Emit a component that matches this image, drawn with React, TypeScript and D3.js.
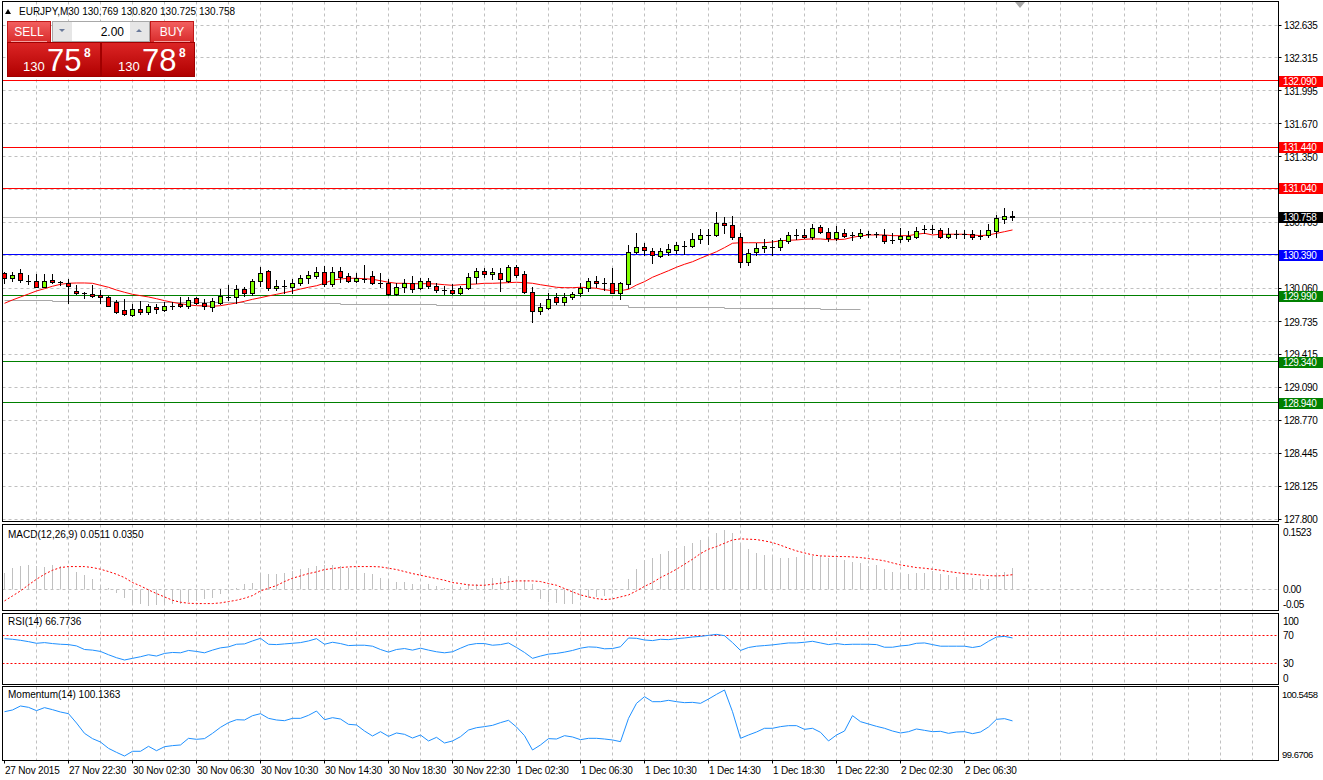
import React from "react";
import * as d3 from "d3";

const timeLabels = ["27 Nov 2015", "27 Nov 22:30", "30 Nov 02:30", "30 Nov 06:30", "30 Nov 10:30", "30 Nov 14:30", "30 Nov 18:30", "30 Nov 22:30", "1 Dec 02:30", "1 Dec 06:30", "1 Dec 10:30", "1 Dec 14:30", "1 Dec 18:30", "1 Dec 22:30", "2 Dec 02:30", "2 Dec 06:30"];
const timeLabelEvery = 8;

const priceTicks = [132.635, 132.315, 131.995, 131.67, 131.35, 131.025, 130.705, 130.38, 130.06, 129.735, 129.415, 129.09, 128.77, 128.445, 128.125, 127.8];

const redLevels = [132.09, 131.44, 131.04];
const blueLevels = [130.39];
const greenLevels = [129.99, 129.34, 128.94];
const bidPrice = 130.758;

const candleOpen = [130.211, 130.162, 130.211, 130.135, 130.132, 130.077, 130.142, 130.125, 130.113, 130.035,
  130.015, 130.005, 129.995, 129.976, 129.927, 129.848, 129.799, 129.858, 129.829, 129.878,
  129.848, 129.890, 129.907, 129.888, 129.966, 129.917, 129.878, 129.917, 129.978, 129.976,
  130.054, 130.015, 130.132, 130.230, 130.064, 130.083, 130.074, 130.113, 130.162, 130.181,
  130.220, 130.103, 130.230, 130.181, 130.132, 130.155, 130.181, 130.113, 130.113, 130.005,
  130.074, 130.113, 130.064, 130.132, 130.083, 130.046, 130.044, 130.015, 130.064, 130.172,
  130.230, 130.201, 130.211, 130.132, 130.269, 130.201, 130.025, 129.838, 129.868, 129.976,
  129.927, 129.976, 130.015, 130.064, 130.132, 130.113, 130.113, 130.015, 130.103, 130.416,
  130.465, 130.426, 130.377, 130.416, 130.436, 130.478, 130.475, 130.544, 130.583, 130.583,
  130.700, 130.681, 130.563, 130.318, 130.416, 130.456, 130.468, 130.465, 130.524, 130.585,
  130.583, 130.563, 130.661, 130.612, 130.553, 130.602, 130.585, 130.573, 130.595, 130.590,
  130.583, 130.536, 130.544, 130.544, 130.563, 130.645, 130.645, 130.632, 130.563, 130.595,
  130.593, 130.593, 130.575, 130.583, 130.622, 130.739, 130.769];
const candleHigh = [130.220, 130.220, 130.250, 130.191, 130.201, 130.201, 130.201, 130.132, 130.152, 130.093,
  130.025, 130.093, 130.044, 129.986, 129.946, 129.956, 129.907, 129.937, 129.907, 129.907,
  129.927, 129.927, 129.976, 129.976, 129.976, 129.956, 129.966, 130.054, 130.093, 130.093,
  130.074, 130.152, 130.269, 130.240, 130.142, 130.142, 130.152, 130.191, 130.230, 130.269,
  130.279, 130.269, 130.269, 130.211, 130.211, 130.289, 130.230, 130.211, 130.152, 130.113,
  130.152, 130.181, 130.162, 130.162, 130.113, 130.083, 130.103, 130.083, 130.211, 130.260,
  130.260, 130.260, 130.260, 130.289, 130.289, 130.230, 130.074, 129.917, 130.015, 130.015,
  130.015, 130.025, 130.113, 130.162, 130.181, 130.162, 130.260, 130.123, 130.485, 130.602,
  130.505, 130.456, 130.456, 130.495, 130.514, 130.524, 130.602, 130.642, 130.642, 130.808,
  130.759, 130.769, 130.602, 130.446, 130.505, 130.544, 130.534, 130.553, 130.612, 130.642,
  130.642, 130.690, 130.681, 130.651, 130.671, 130.642, 130.612, 130.642, 130.622, 130.612,
  130.642, 130.602, 130.651, 130.622, 130.661, 130.681, 130.681, 130.651, 130.651, 130.632,
  130.632, 130.632, 130.632, 130.690, 130.779, 130.847, 130.820];
const candleLow = [130.113, 130.132, 130.123, 130.103, 130.070, 130.070, 130.113, 130.093, 129.917, 130.005,
  129.966, 129.976, 129.917, 129.885, 129.819, 129.799, 129.789, 129.809, 129.809, 129.819,
  129.838, 129.858, 129.878, 129.868, 129.907, 129.858, 129.838, 129.907, 129.946, 129.917,
  129.986, 129.995, 130.083, 130.044, 130.044, 130.015, 130.015, 130.093, 130.113, 130.162,
  130.083, 130.083, 130.123, 130.123, 130.123, 130.123, 130.103, 130.074, 129.995, 129.995,
  130.025, 130.025, 130.054, 130.064, 130.025, 130.005, 130.005, 130.005, 130.054, 130.113,
  130.172, 130.152, 130.035, 130.123, 130.172, 130.015, 129.731, 129.809, 129.858, 129.907,
  129.897, 129.956, 129.986, 130.035, 130.074, 130.044, 130.015, 129.956, 130.064, 130.407,
  130.387, 130.309, 130.367, 130.387, 130.407, 130.397, 130.465, 130.505, 130.495, 130.573,
  130.602, 130.544, 130.269, 130.289, 130.387, 130.416, 130.387, 130.436, 130.505, 130.544,
  130.553, 130.544, 130.602, 130.524, 130.534, 130.563, 130.534, 130.553, 130.563, 130.563,
  130.505, 130.505, 130.514, 130.524, 130.553, 130.602, 130.602, 130.553, 130.553, 130.553,
  130.553, 130.544, 130.544, 130.563, 130.563, 130.700, 130.725];
const candleClose = [130.162, 130.191, 130.142, 130.132, 130.077, 130.132, 130.123, 130.120, 130.083, 130.015,
  130.012, 129.986, 129.976, 129.888, 129.829, 129.809, 129.858, 129.829, 129.888, 129.858,
  129.888, 129.888, 129.888, 129.946, 129.917, 129.888, 129.937, 129.986, 129.976, 130.054,
  130.015, 130.132, 130.211, 130.064, 130.083, 130.085, 130.113, 130.162, 130.191, 130.220,
  130.103, 130.220, 130.172, 130.132, 130.162, 130.152, 130.113, 130.110, 130.005, 130.074,
  130.113, 130.054, 130.132, 130.083, 130.044, 130.044, 130.015, 130.064, 130.172, 130.230,
  130.201, 130.220, 130.152, 130.269, 130.191, 130.025, 129.838, 129.878, 129.956, 129.927,
  129.976, 130.005, 130.064, 130.132, 130.113, 130.110, 130.015, 130.113, 130.416, 130.465,
  130.436, 130.387, 130.426, 130.446, 130.485, 130.475, 130.544, 130.583, 130.580, 130.700,
  130.681, 130.563, 130.318, 130.407, 130.456, 130.475, 130.465, 130.534, 130.583, 130.583,
  130.563, 130.651, 130.612, 130.553, 130.612, 130.573, 130.583, 130.602, 130.593, 130.593,
  130.524, 130.534, 130.573, 130.573, 130.622, 130.642, 130.642, 130.563, 130.593, 130.593,
  130.590, 130.563, 130.573, 130.632, 130.749, 130.769, 130.758];

const maValues = [129.914, 129.947, 129.976, 130.005, 130.035, 130.057, 130.081, 130.100, 130.110, 130.113,
  130.113, 130.110, 130.090, 130.071, 130.044, 130.022, 130.002, 129.989, 129.976, 129.959,
  129.940, 129.924, 129.910, 129.898, 129.891, 129.888, 129.885, 129.891, 129.904, 129.917,
  129.934, 129.953, 129.969, 129.986, 130.002, 130.018, 130.035, 130.054, 130.071, 130.086,
  130.110, 130.142, 130.152, 130.159, 130.159, 130.155, 130.149, 130.135, 130.120, 130.110,
  130.110, 130.106, 130.106, 130.106, 130.103, 130.096, 130.090, 130.096, 130.100, 130.103,
  130.110, 130.110, 130.113, 130.116, 130.120, 130.116, 130.110, 130.096, 130.084, 130.071,
  130.067, 130.067, 130.071, 130.067, 130.061, 130.047, 130.038, 130.038, 130.051, 130.093,
  130.126, 130.169, 130.201, 130.233, 130.267, 130.296, 130.321, 130.355, 130.387, 130.419,
  130.459, 130.502, 130.507, 130.507, 130.507, 130.507, 130.514, 130.527, 130.531, 130.534,
  130.541, 130.544, 130.544, 130.537, 130.537, 130.541, 130.560, 130.573, 130.583, 130.583,
  130.583, 130.576, 130.576, 130.576, 130.590, 130.599, 130.583, 130.590, 130.590, 130.590,
  130.590, 130.583, 130.576, 130.583, 130.599, 130.615, 130.632];

const slowMaStart = [0, 6, 18, 30, 42, 54, 66, 78, 90, 102, 107];
const slowMaValues = [129.946, 129.930, 129.920, 129.914, 129.904, 129.891, 129.891, 129.875, 129.863, 129.858, 129.858];

const macdMain = [0.0401, 0.0522, 0.0562, 0.0586, 0.0562, 0.0538, 0.0586, 0.0562, 0.0522, 0.0426,
  0.0345, 0.0241, 0.0080, 0.0040, -0.0080, -0.0217, -0.0321, -0.0361, -0.0402, -0.0377,
  -0.0361, -0.0345, -0.0345, -0.0297, -0.0281, -0.0241, -0.0217, -0.0120, -0.0040, 0.0040,
  0.0120, 0.0161, 0.0345, 0.0361, 0.0377, 0.0401, 0.0442, 0.0482, 0.0522, 0.0562,
  0.0586, 0.0586, 0.0562, 0.0522, 0.0458, 0.0401, 0.0377, 0.0281, 0.0201, 0.0185,
  0.0185, 0.0120, 0.0080, 0.0120, 0.0072, 0.0040, 0.0056, 0.0056, 0.0120, 0.0120,
  0.0241, 0.0281, 0.0281, 0.0321, 0.0241, 0.0217, 0.0120, -0.0241, -0.0297, -0.0329,
  -0.0345, -0.0345, -0.0265, -0.0201, -0.0185, -0.0161, -0.0080, 0.0000, 0.0241, 0.0482,
  0.0699, 0.0763, 0.0843, 0.0923, 0.0988, 0.1044, 0.1108, 0.1188, 0.1269, 0.1349,
  0.1421, 0.1349, 0.1084, 0.0964, 0.0867, 0.0819, 0.0779, 0.0747, 0.0763, 0.0771,
  0.0795, 0.0795, 0.0795, 0.0763, 0.0763, 0.0699, 0.0666, 0.0642, 0.0570, 0.0586,
  0.0482, 0.0426, 0.0401, 0.0361, 0.0385, 0.0401, 0.0442, 0.0361, 0.0345, 0.0305,
  0.0361, 0.0265, 0.0241, 0.0241, 0.0385, 0.0426, 0.0511];
const macdSignal = [-0.0281, -0.0161, -0.0040, 0.0104, 0.0241, 0.0361, 0.0458, 0.0522, 0.0546, 0.0546,
  0.0546, 0.0522, 0.0482, 0.0426, 0.0361, 0.0281, 0.0161, 0.0080, -0.0016, -0.0104,
  -0.0185, -0.0265, -0.0313, -0.0337, -0.0345, -0.0345, -0.0345, -0.0329, -0.0297, -0.0265,
  -0.0217, -0.0153, -0.0040, 0.0024, 0.0088, 0.0185, 0.0265, 0.0321, 0.0377, 0.0418,
  0.0474, 0.0498, 0.0522, 0.0538, 0.0546, 0.0546, 0.0546, 0.0538, 0.0506, 0.0474,
  0.0426, 0.0377, 0.0337, 0.0297, 0.0257, 0.0217, 0.0161, 0.0137, 0.0104, 0.0096,
  0.0096, 0.0120, 0.0145, 0.0177, 0.0201, 0.0201, 0.0201, 0.0185, 0.0137, 0.0096,
  0.0016, -0.0064, -0.0137, -0.0185, -0.0225, -0.0249, -0.0233, -0.0185, -0.0137, -0.0040,
  0.0070, 0.0161, 0.0281, 0.0377, 0.0482, 0.0602, 0.0723, 0.0859, 0.0964, 0.1028,
  0.1108, 0.1188, 0.1213, 0.1205, 0.1196, 0.1164, 0.1124, 0.1060, 0.0988, 0.0923,
  0.0875, 0.0827, 0.0803, 0.0795, 0.0787, 0.0787, 0.0779, 0.0763, 0.0739, 0.0715,
  0.0683, 0.0634, 0.0586, 0.0554, 0.0522, 0.0506, 0.0482, 0.0458, 0.0426, 0.0401,
  0.0377, 0.0361, 0.0345, 0.0329, 0.0321, 0.0329, 0.0350];
const macdMax = 0.1523;
const macdMin = -0.05;

const rsiValues = [65.7, 64.8, 63.3, 61.4, 59.0, 60.0, 58.6, 57.6, 57.1, 55.2,
  50.0, 49.1, 47.2, 42.4, 38.1, 34.8, 37.2, 39.5, 42.4, 40.5,
  44.3, 45.7, 45.2, 48.6, 47.2, 45.2, 49.1, 52.4, 53.8, 57.6,
  58.1, 62.4, 66.2, 57.6, 57.1, 58.1, 59.0, 60.0, 62.4, 65.7,
  57.6, 60.5, 58.6, 55.7, 56.2, 56.2, 54.8, 50.0, 46.2, 50.0,
  51.4, 49.1, 51.9, 49.1, 46.7, 45.2, 46.7, 51.9, 56.7, 58.6,
  58.6, 56.2, 57.1, 59.5, 52.9, 45.7, 37.2, 40.5, 43.3, 44.3,
  46.2, 48.6, 51.9, 53.8, 53.3, 51.0, 51.4, 54.0, 66.7, 66.2,
  63.8, 62.9, 64.8, 64.3, 65.7, 66.7, 68.1, 69.0, 70.5, 71.9,
  70.0, 60.0, 48.6, 52.9, 54.8, 55.7, 56.7, 58.1, 59.5, 59.5,
  60.5, 61.9, 59.5, 57.1, 58.6, 57.1, 57.6, 57.6, 57.6, 57.1,
  53.3, 53.3, 55.2, 56.2, 59.0, 59.5, 57.1, 54.8, 54.8, 54.8,
  54.8, 52.9, 54.8, 61.9, 68.1, 69.0, 66.7736];
const rsiLevels = [70, 30];

const momentumValues = [100.258, 100.281, 100.334, 100.316, 100.272, 100.312, 100.285, 100.254, 100.232, 100.108,
  99.971, 99.901, 99.856, 99.772, 99.719, 99.6706, 99.733, 99.733, 99.799, 99.741,
  99.794, 99.808, 99.817, 99.905, 99.892, 99.901, 99.971, 100.051, 100.113, 100.152,
  100.148, 100.205, 100.232, 100.170, 100.148, 100.139, 100.170, 100.170, 100.210, 100.267,
  100.152, 100.179, 100.161, 100.091, 100.082, 100.002, 99.936, 99.993, 99.931, 99.976,
  99.958, 99.909, 99.949, 99.870, 99.918, 99.843, 99.870, 99.927, 100.015, 100.046,
  100.060, 100.077, 100.113, 100.144, 100.055, 99.940, 99.750, 99.817, 99.901, 99.896,
  99.940, 99.923, 99.887, 99.905, 99.905, 99.896, 99.883, 99.861, 100.170, 100.369,
  100.457, 100.391, 100.391, 100.409, 100.391, 100.378, 100.382, 100.369, 100.426, 100.488,
  100.5458, 100.258, 99.905, 99.949, 99.989, 100.038, 100.038, 100.060, 100.073, 100.073,
  100.024, 100.038, 99.985, 99.870, 99.949, 100.002, 100.206, 100.126, 100.095, 100.064,
  100.038, 100.002, 99.976, 99.993, 100.029, 100.011, 99.993, 99.998, 99.971, 99.989,
  99.993, 99.967, 99.989, 100.055, 100.157, 100.166, 100.1363];

const FONT = "'Liberation Sans', Arial, sans-serif";
const GRID = "#c0c0c0";
const BULL = "#80ff00";
const BEAR = "#ff0000";

export default function App() {
  const n = candleClose.length;
  const L = 2.5;
  const R = 1278.5;
  const x = d3.scaleLinear().domain([0, n - 1]).range([4.5, 4.5 + 8 * (n - 1)]);
  const yP = d3.scaleLinear().domain([127.8, 132.635]).range([519.3, 25.3]);
  const snap = (v: number) => Math.round(v - 0.5) + 0.5;

  const pMain = [1.5, 521.5];
  const pMacd = [524.5, 610.5];
  const pRsi = [613.5, 684.5];
  const pMom = [686.5, 760.5];

  const yMacd = d3.scaleLinear().domain([macdMin, macdMax]).range([610, 526]);
  const yRsi = d3.scaleLinear().domain([0, 100]).range([684, 615]);
  const yMom = d3.scaleLinear().domain([d3.min(momentumValues)!, d3.max(momentumValues)!]).range([756, 690]);

  const gridX = d3.range(4, 200, 4).map((i) => x(i)).filter((v) => v < R - 2);

  const vGrid = (top: number, bottom: number, key: string) =>
    gridX.map((gx, k) => (
      <line key={key + k} x1={gx} x2={gx} y1={top} y2={bottom} stroke={GRID} strokeDasharray="3,3" />
    ));

  const maLine = d3.line<number>().x((_, i) => x(i)).y((v) => yP(v))(maValues) || "";
  const slowLine = d3
    .line<number>()
    .x((_, k) => x(slowMaStart[k]))
    .y((v) => snap(yP(v)))
    .curve(d3.curveStepAfter)(slowMaValues) || "";
  const signalLine = d3.line<number>().x((_, i) => x(i)).y((v) => yMacd(v))(macdSignal) || "";
  const rsiLine = d3.line<number>().x((_, i) => x(i)).y((v) => yRsi(v))(rsiValues) || "";
  const momLine = d3.line<number>().x((_, i) => x(i)).y((v) => yMom(v))(momentumValues) || "";

  const clampLabel = (y: number, top: number, bottom: number) => Math.max(top + 7.5, Math.min(bottom - 6, y));

  const last = n - 1;
  const header = `EURJPY,M30 ${candleOpen[last].toFixed(3)} ${candleHigh[last].toFixed(3)} ${candleLow[last].toFixed(3)} ${candleClose[last].toFixed(3)}`;

  const bidStr = candleClose[last].toFixed(3);
  const bidPip = bidStr.split(".")[1];
  const askStr = (candleClose[last] + 0.03).toFixed(4);
  const askPip = askStr.split(".")[1];

  const AX = { fontSize: 10, letterSpacing: -0.4 } as const;

  const levelLabel = (v: number, fill: string, key: string) => {
    const yy = Math.round(yP(v));
    return (
      <g key={key}>
        <rect x={1279} y={yy - 5} width={44} height={11} fill={fill} />
        <text x={1283} y={yy + 0.5} dominantBaseline="central" fill="#fff" {...AX}>
          {v.toFixed(3)}
        </text>
      </g>
    );
  };

  const levelLine = (v: number, stroke: string, key: string) => (
    <line key={key} x1={L} x2={R} y1={snap(yP(v))} y2={snap(yP(v))} stroke={stroke} strokeWidth={1} />
  );

  const zeroY = snap(yMacd(0));

  return (
    <svg width={1323} height={780} style={{ position: "absolute", left: 0, top: 0, display: "block" }} fontFamily={FONT}>
      <defs>
        <linearGradient id="btn" x1="0" y1="0" x2="0" y2="1">
          <stop offset="0" stopColor="#f36060" />
          <stop offset="1" stopColor="#d82a2a" />
        </linearGradient>
        <linearGradient id="big" x1="0" y1="0" x2="0" y2="1">
          <stop offset="0" stopColor="#dc2525" />
          <stop offset="1" stopColor="#b00000" />
        </linearGradient>
        <clipPath id="clipMain">
          <rect x={L} y={pMain[0]} width={R - L} height={pMain[1] - pMain[0]} />
        </clipPath>
        <clipPath id="clipMacd">
          <rect x={L} y={pMacd[0]} width={R - L} height={pMacd[1] - pMacd[0]} />
        </clipPath>
      </defs>
      <rect x={0} y={0} width={1323} height={780} fill="#fff" />

      {/* ---------- main panel ---------- */}
      {vGrid(pMain[0], pMain[1], "gm")}
      {priceTicks.map((t, k) => (
        <line key={"hg" + k} x1={L} x2={R} y1={snap(yP(t))} y2={snap(yP(t))} stroke={GRID} strokeDasharray="3,3" />
      ))}
      <g clipPath="url(#clipMain)">
        <line x1={L} x2={R} y1={snap(yP(bidPrice))} y2={snap(yP(bidPrice))} stroke="#c0c0c0" />
        {redLevels.map((v, k) => levelLine(v, "#ff0000", "rl" + k))}
        {blueLevels.map((v, k) => levelLine(v, "#0000ff", "bl" + k))}
        {greenLevels.map((v, k) => levelLine(v, "#008000", "gl" + k))}
        <path d={slowLine} fill="none" stroke="#a8a8a8" strokeWidth={1} />
        <path d={maLine} fill="none" stroke="#ff0000" strokeWidth={1} />
        {candleClose.map((c, i) => {
          const o = candleOpen[i];
          const cx = x(i);
          const yh = Math.round(yP(candleHigh[i]));
          const yl = Math.round(yP(candleLow[i]));
          const yt = Math.round(yP(Math.max(o, c)));
          const yb = Math.round(yP(Math.min(o, c)));
          return (
            <g key={"c" + i}>
              <line x1={cx} x2={cx} y1={yh} y2={yl + 1} stroke="#000" />
              {yb - yt < 1 ? (
                <line x1={cx - 2.5} x2={cx + 2.5} y1={yt + 0.5} y2={yt + 0.5} stroke="#000" />
              ) : (
                <rect x={cx - 2} y={yt + 0.5} width={4} height={yb - yt} fill={c > o ? BULL : BEAR} stroke="#000" />
              )}
            </g>
          );
        })}
      </g>
      <rect x={L} y={pMain[0]} width={R - L} height={pMain[1] - pMain[0]} fill="none" stroke="#000" />
      <polygon points="1015,2 1025,2 1020,8" fill="#a8a8a8" />

      {/* price axis */}
      {priceTicks.map((t, k) => (
        <g key={"pt" + k}>
          <line x1={R} x2={R + 3} y1={snap(yP(t))} y2={snap(yP(t))} stroke="#000" />
          <text x={1284} y={yP(t) + 0.5} dominantBaseline="central" fill="#000" {...AX}>
            {t.toFixed(3)}
          </text>
        </g>
      ))}
      {redLevels.map((v, k) => levelLabel(v, "#ff0000", "rlab" + k))}
      {blueLevels.map((v, k) => levelLabel(v, "#0000ff", "blab" + k))}
      {greenLevels.map((v, k) => levelLabel(v, "#008000", "glab" + k))}
      {levelLabel(bidPrice, "#000000", "bid")}

      {/* header */}
      <polygon points="5,14 11,14 8,9" fill="#000" />
      <text x={19} y={15} fontSize={10} fill="#000">{header}</text>

      {/* one-click trade panel */}
      <g>
        <rect x={7.5} y={21.5} width={43} height={21} fill="url(#btn)" stroke="#c01818" />
        <text x={29} y={36} textAnchor="middle" fontSize={12} fill="#fff">SELL</text>
        <line x1={11} x2={47} y1={41.5} y2={41.5} stroke="#f4a0a0" />
        <rect x={52.5} y={21.5} width={97} height={20} fill="#fff" stroke="#a8a8a8" />
        <rect x={53} y={22} width={19} height={19} fill="#e6e6e6" />
        <polygon points="59,29 65,29 62,32" fill="#6a7a9a" />
        <rect x={130} y={22} width={19} height={19} fill="#e6e6e6" />
        <polygon points="136,32 142,32 139,29" fill="#6a7a9a" />
        <text x={124} y={36} textAnchor="end" fontSize={12} fill="#000">2.00</text>
        <rect x={150.5} y={21.5} width={43} height={21} fill="url(#btn)" stroke="#c01818" />
        <text x={172} y={36} textAnchor="middle" fontSize={12} fill="#fff">BUY</text>
        <line x1={154} x2={190} y1={41.5} y2={41.5} stroke="#f4a0a0" />
        <rect x={7.5} y={42.5} width={93} height={34} fill="url(#big)" stroke="#a00000" />
        <rect x={101.5} y={42.5} width={93} height={34} fill="url(#big)" stroke="#a00000" />
        <text x={23} y={71} fontSize={13} fill="#fff">{bidStr.split(".")[0]}</text>
        <text x={47} y={71} fontSize={31} fill="#fff">{bidPip.slice(0, 2)}</text>
        <text x={84} y={57} fontSize={12} fontWeight="bold" fill="#fff">{bidPip.slice(2)}</text>
        <text x={118} y={71} fontSize={13} fill="#fff">{askStr.split(".")[0]}</text>
        <text x={142} y={71} fontSize={31} fill="#fff">{askPip.slice(0, 2)}</text>
        <text x={179} y={57} fontSize={12} fontWeight="bold" fill="#fff">{askPip.slice(2, 3)}</text>
      </g>

      {/* ---------- MACD ---------- */}
      {vGrid(pMacd[0], pMacd[1], "gmacd")}
      <line x1={L} x2={R} y1={zeroY} y2={zeroY} stroke={GRID} strokeDasharray="3,3" />
      <g clipPath="url(#clipMacd)">
        {macdMain.map((v, i) => (
          <line key={"mb" + i} x1={x(i)} x2={x(i)} y1={zeroY} y2={Math.round(yMacd(v))} stroke="#c0c0c0" />
        ))}
        <path d={signalLine} fill="none" stroke="#ff0000" strokeDasharray="2,2" />
      </g>
      <rect x={L} y={pMacd[0]} width={R - L} height={pMacd[1] - pMacd[0]} fill="none" stroke="#000" />
      <text x={8} y={538} fontSize={10} fill="#000">
        {`MACD(12,26,9) ${macdMain[last].toFixed(4)} ${macdSignal[last].toFixed(4)}`}
      </text>
      {[
        { v: macdMax, s: macdMax.toFixed(4) },
        { v: 0, s: "0.00" },
        { v: macdMin, s: macdMin.toFixed(2) },
      ].map((d, k) => (
        <text key={"ml" + k} x={1283} y={clampLabel(yMacd(d.v), pMacd[0], pMacd[1])} dominantBaseline="central" fill="#000" {...AX}>
          {d.s}
        </text>
      ))}

      {/* ---------- RSI ---------- */}
      {vGrid(pRsi[0], pRsi[1], "grsi")}
      {rsiLevels.map((lv, k) => (
        <line key={"rl" + k} x1={L} x2={R} y1={snap(yRsi(lv))} y2={snap(yRsi(lv))} stroke="#ff0000" strokeDasharray="2,2" />
      ))}
      <path d={rsiLine} fill="none" stroke="#1e90ff" />
      <rect x={L} y={pRsi[0]} width={R - L} height={pRsi[1] - pRsi[0]} fill="none" stroke="#000" />
      <text x={8} y={625} fontSize={10} fill="#000">{`RSI(14) ${rsiValues[last].toFixed(4)}`}</text>
      {[100, 70, 30, 0].map((v, k) => (
        <text key={"rlab" + k} x={1283} y={clampLabel(yRsi(v), pRsi[0], pRsi[1])} dominantBaseline="central" fill="#000" {...AX}>
          {v}
        </text>
      ))}

      {/* ---------- Momentum ---------- */}
      {vGrid(pMom[0], pMom[1], "gmom")}
      <path d={momLine} fill="none" stroke="#1e90ff" />
      <rect x={L} y={pMom[0]} width={R - L} height={pMom[1] - pMom[0]} fill="none" stroke="#000" />
      <text x={8} y={698} fontSize={10} fill="#000">{`Momentum(14) ${momentumValues[last].toFixed(4)}`}</text>
      {yMom.domain().map((v, k) => (
        <text key={"mlab" + k} x={1282} y={clampLabel(yMom(v), pMom[0], pMom[1])} dominantBaseline="central" fill="#000" fontSize={9.5} letterSpacing={-0.5}>
          {v.toFixed(4)}
        </text>
      ))}

      {/* time axis */}
      {timeLabels.map((t, k) => {
        const tx = x(k * timeLabelEvery);
        return (
          <g key={"tl" + k}>
            <line x1={tx} x2={tx} y1={pMom[1]} y2={pMom[1] + 3} stroke="#000" />
            <text x={tx + 0.5} y={774} fontSize={10} fill="#000" letterSpacing={-0.2}>
              {t}
            </text>
          </g>
        );
      })}
    </svg>
  );
}
